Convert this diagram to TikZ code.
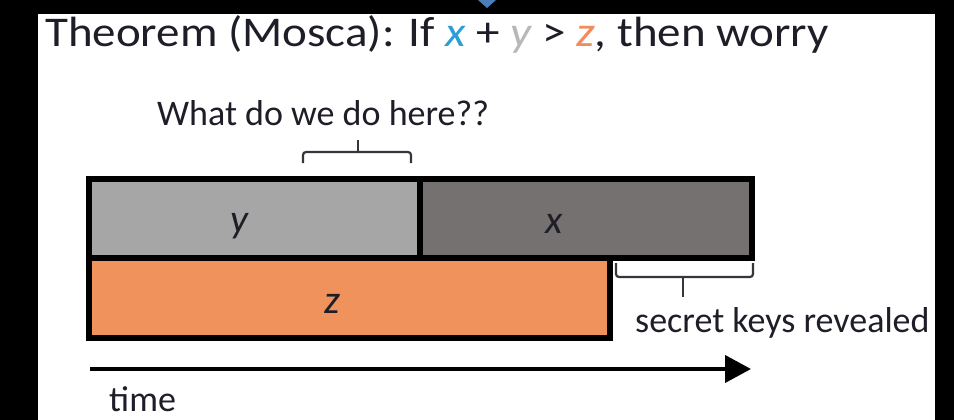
\documentclass[tikz,border=0pt]{standalone}
\usepackage{fontspec}
\setmainfont{Carlito}
\usetikzlibrary{arrows.meta}
\definecolor{ygray}{HTML}{A6A6A6}
\definecolor{xgray}{HTML}{767171}
\definecolor{zorange}{HTML}{F0925C}
\definecolor{xblue}{HTML}{2A9FD6}
\definecolor{ylight}{HTML}{B8B8B8}
\definecolor{zsalmon}{HTML}{F28C5E}
\definecolor{txt}{HTML}{1E1E28}
\definecolor{tri}{HTML}{4A7EBB}
\tikzset{
  bar/.style={draw=black, line width=6pt, rectangle, inner sep=0pt, outer sep=0pt, anchor=north west},
  lab/.style={font=\fontsize{40}{44}\selectfont\itshape, text=txt, inner sep=0pt, anchor=base},
  txtnode/.style={font=\fontsize{36}{40}\selectfont, text=txt, inner sep=0pt, anchor=base west},
  brace/.style={draw=txt!90, line width=2.2pt, rounded corners=3pt},
}
\begin{document}
\begin{tikzpicture}[x=1pt,y=-1pt]
\useasboundingbox (0,0) rectangle (954,420);
\fill[black] (0,0) rectangle (954,420);
\fill[white] (38,14) rectangle (935,420);
\fill[tri] (478,0) -- (496,0) -- (487,8) -- cycle;
% title
\node[txtnode, font=\fontsize{47}{50}\selectfont] (title) at (45,47)
  {\scalebox{1}[0.9]{Theorem (Mosca): If \textcolor{xblue}{\itshape x} + \textcolor{ylight}{\itshape y} > \textcolor{zsalmon}{\itshape z}, then worry}};
% bars
\node[bar, fill=ygray, minimum width=331pt, minimum height=79pt] (ybox) at (89,179) {};
\node[bar, fill=xgray, minimum width=332pt, minimum height=79pt] (xbox) at (420,179) {};
\node[bar, fill=zorange, minimum width=521pt, minimum height=80pt] (zbox) at (89,258) {};
\node[lab] (ylab) at (239,232) {y};
\node[lab] (xlab) at (554,233) {x};
\node[lab] (zlab) at (332,313) {z};
% top brace and question
\node[txtnode] (q) at (157,125) {What do we do here??};
\draw[brace] (303,163) -- (303,152) -- (411,152) -- (411,163);
\draw[brace] (358,152) -- (358,140);
% bottom brace
\draw[brace] (616,263) -- (616,277) -- (753,277) -- (753,263);
\draw[brace] (683,277) -- (683,297);
\node[txtnode] (keys) at (635,332) {secret keys revealed};
% time arrow
\coordinate (t0) at (90,369);
\coordinate (t1) at (751,369);
\draw[line width=4pt, -{Triangle[length=26pt,width=27pt]}] (t0) -- (t1);
\node[txtnode] (time) at (109,411) {time};
\end{tikzpicture}
\end{document}
